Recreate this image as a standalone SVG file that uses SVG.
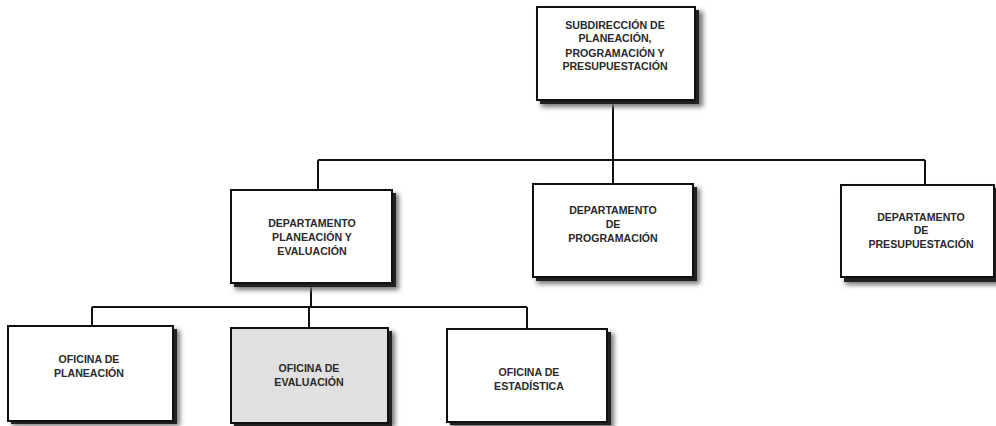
<svg xmlns="http://www.w3.org/2000/svg" width="996" height="426" viewBox="0 0 996 426">
<defs>
<filter id="sh" x="-10%" y="-10%" width="130%" height="130%">
<feGaussianBlur stdDeviation="2.5"/>
</filter>
<style>
.box{fill:#fff;stroke:#111;stroke-width:2}
.gray{fill:#e0e0e0}
.sd{fill:#222}
.sb{fill:#777;filter:url(#sh)}
.t{font-family:"Liberation Sans",Arial,sans-serif;font-weight:bold;font-size:10.6px;fill:#2a2a2a;text-anchor:middle}
.c{stroke:#111;stroke-width:2;fill:none}
</style>
</defs>
<rect width="996" height="426" fill="#fff"/>
<g id="connectors">
<path class="c" d="M613 101V160M318 160H925M318 160V190M613 160V184M925 160V185"/>
<path class="c" d="M311 284V307M92 307H527M92 307V326M309 307V328M527 307V329"/>
</g>
<g id="n-sub">
<rect class="sb" x="541" y="11" width="162" height="96"/>
<rect class="sd" x="540" y="10" width="159" height="94"/>
<rect class="box" x="537" y="7" width="158" height="93"/>
<text class="t" x="615" y="29">SUBDIRECCIÓN DE</text>
<text class="t" x="615" y="42">PLANEACIÓN,</text>
<text class="t" x="615" y="57">PROGRAMACIÓN Y</text>
<text class="t" x="615" y="70">PRESUPUESTACIÓN</text>
</g>
<g id="n-dep1">
<rect class="sb" x="235" y="194" width="164" height="96"/>
<rect class="sd" x="234" y="193" width="162" height="94"/>
<rect class="box" x="231" y="190" width="161" height="93"/>
<text class="t" x="312" y="227">DEPARTAMENTO</text>
<text class="t" x="312" y="241">PLANEACIÓN Y</text>
<text class="t" x="312" y="255">EVALUACIÓN</text>
</g>
<g id="n-dep2">
<rect class="sb" x="537" y="188" width="163" height="96"/>
<rect class="sd" x="536" y="187" width="161" height="94"/>
<rect class="box" x="533" y="184" width="160" height="93"/>
<text class="t" x="613" y="214">DEPARTAMENTO</text>
<text class="t" x="613" y="228">DE</text>
<text class="t" x="613" y="242">PROGRAMACIÓN</text>
</g>
<g id="n-dep3">
<rect class="sb" x="845" y="189" width="160" height="96"/>
<rect class="sd" x="844" y="188" width="152" height="94"/>
<rect class="box" x="841" y="185" width="153" height="92"/>
<text class="t" x="921" y="221">DEPARTAMENTO</text>
<text class="t" x="921" y="234">DE</text>
<text class="t" x="921" y="248">PRESUPUESTACIÓN</text>
</g>
<g id="n-of1">
<rect class="sb" x="12" y="330" width="168" height="96"/>
<rect class="sd" x="11" y="329" width="166" height="95"/>
<rect class="box" x="8" y="326" width="165" height="95"/>
<text class="t" x="89" y="363">OFICINA DE</text>
<text class="t" x="89" y="377">PLANEACIÓN</text>
</g>
<g id="n-of2">
<rect class="sb" x="235" y="332" width="160" height="96"/>
<rect class="sd" x="234" y="331" width="158" height="95"/>
<rect class="box gray" x="231" y="328" width="157" height="95"/>
<text class="t" x="309" y="372">OFICINA DE</text>
<text class="t" x="309" y="386">EVALUACIÓN</text>
</g>
<g id="n-of3">
<rect class="sb" x="451" y="333" width="163" height="96"/>
<rect class="sd" x="450" y="332" width="161" height="93"/>
<rect class="box" x="447" y="329" width="160" height="93"/>
<text class="t" x="529" y="376">OFICINA DE</text>
<text class="t" x="529" y="390">ESTADÍSTICA</text>
</g>
</svg>
